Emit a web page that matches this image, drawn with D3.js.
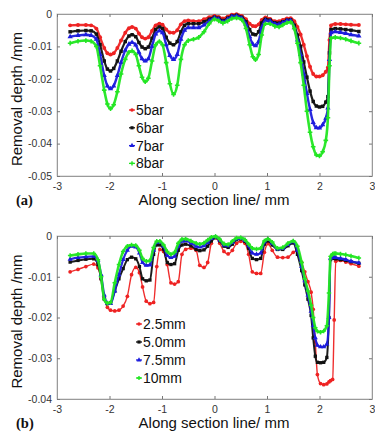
<!DOCTYPE html>
<html><head><meta charset="utf-8">
<script src="https://cdn.jsdelivr.net/npm/d3@7"></script>
<style>
html,body{margin:0;padding:0;background:#fff;}
svg{display:block;font-family:Arial,"Liberation Sans",sans-serif;}
</style></head>
<body>
<svg id="c" width="375" height="434"></svg>
<script>
// ---------- DATA ----------
const xTicks = [-3,-2,-1,0,1,2,3];
const xTickLabels = ["-3","-2","-1","0","1","2","3"];
const yTicksA = [0,-0.01,-0.02,-0.03,-0.04,-0.05];
const yTickLabelsA = ["0","-0.01","-0.02","-0.03","-0.04","-0.05"];
const yTicksB = [0,-0.01,-0.02,-0.03,-0.04];
const yTickLabelsB = ["0","-0.01","-0.02","-0.03","-0.04"];

const seriesNamesA = ["5bar","6bar","7bar","8bar"];
const seriesNamesB = ["2.5mm","5.0mm","7.5mm","10mm"];
const colors = ["#ee2222","#111111","#1c1cdd","#22e622"];

// (a) positions along the section line (mm)
const xA = [-2.75,-2.6,-2.45,-2.35,-2.25,-2.18,-2.1,-2.04,-1.98,-1.92,-1.85,-1.78,-1.7,-1.63,-1.57,-1.5,-1.44,-1.38,-1.32,-1.26,-1.19,-1.12,-1.05,-0.99,-0.92,-0.85,-0.78,-0.71,-0.64,-0.57,-0.5,-0.4,-0.3,-0.2,-0.1,0,0.08,0.16,0.25,0.33,0.42,0.52,0.6,0.67,0.73,0.78,0.84,0.9,0.97,1.06,1.15,1.23,1.3,1.38,1.45,1.52,1.58,1.64,1.7,1.76,1.82,1.88,1.94,2.0,2.06,2.12,2.16,2.19,2.22,2.3,2.4,2.5,2.6,2.75];
const a5bar = [-0.0035,-0.0034,-0.0034,-0.0035,-0.0045,-0.0072,-0.0105,-0.0121,-0.0125,-0.0121,-0.0105,-0.0082,-0.0058,-0.0044,-0.004,-0.0045,-0.006,-0.0072,-0.0076,-0.0072,-0.0052,-0.0035,-0.003,-0.0033,-0.0048,-0.0057,-0.0058,-0.005,-0.0032,-0.0022,-0.002,-0.0022,-0.0022,-0.0016,-0.001,-0.0006,-0.0009,-0.0014,-0.0008,-0.0002,-0.0001,-0.0006,-0.0016,-0.003,-0.0037,-0.0038,-0.0032,-0.0018,-0.0011,-0.0015,-0.0022,-0.0022,-0.0018,-0.0014,-0.0013,-0.0022,-0.004,-0.0063,-0.0095,-0.013,-0.0163,-0.0185,-0.0193,-0.0193,-0.0189,-0.0178,-0.0165,-0.008,-0.0035,-0.0031,-0.0031,-0.0032,-0.0033,-0.0034];
const a6bar = [-0.0055,-0.0052,-0.0051,-0.0052,-0.0062,-0.0095,-0.0145,-0.017,-0.0176,-0.0168,-0.0145,-0.0115,-0.0085,-0.0068,-0.0064,-0.007,-0.0088,-0.0102,-0.0107,-0.0102,-0.0075,-0.0048,-0.004,-0.0045,-0.0072,-0.009,-0.0095,-0.0085,-0.0055,-0.0035,-0.003,-0.003,-0.003,-0.0024,-0.0016,-0.001,-0.0013,-0.002,-0.0013,-0.0006,-0.0004,-0.001,-0.0024,-0.0048,-0.0062,-0.0064,-0.0055,-0.0028,-0.0016,-0.0019,-0.0027,-0.0028,-0.0024,-0.0019,-0.0018,-0.0035,-0.0065,-0.01,-0.0148,-0.0195,-0.0238,-0.027,-0.0284,-0.0287,-0.0285,-0.0272,-0.0255,-0.012,-0.0048,-0.0045,-0.0046,-0.0048,-0.005,-0.0054];
const a7bar = [-0.007,-0.0066,-0.0064,-0.0066,-0.0078,-0.0125,-0.019,-0.0222,-0.0231,-0.0222,-0.019,-0.015,-0.0112,-0.0093,-0.0088,-0.0096,-0.0118,-0.0138,-0.0145,-0.0138,-0.01,-0.0062,-0.0052,-0.0058,-0.0095,-0.0128,-0.014,-0.0125,-0.0078,-0.005,-0.0042,-0.0042,-0.0042,-0.0034,-0.0022,-0.0012,-0.0016,-0.0025,-0.0016,-0.0008,-0.0006,-0.0013,-0.0032,-0.007,-0.0093,-0.0098,-0.0085,-0.0042,-0.002,-0.0022,-0.0031,-0.0032,-0.0027,-0.0021,-0.002,-0.0042,-0.008,-0.0125,-0.0185,-0.0245,-0.0295,-0.0335,-0.0351,-0.0352,-0.0342,-0.0322,-0.029,-0.014,-0.0058,-0.0055,-0.0057,-0.006,-0.0064,-0.0068];
const a8bar = [-0.009,-0.0084,-0.0082,-0.0084,-0.01,-0.016,-0.0235,-0.0278,-0.0292,-0.028,-0.024,-0.0185,-0.014,-0.0118,-0.0114,-0.0125,-0.016,-0.0195,-0.0209,-0.0198,-0.0145,-0.0095,-0.0085,-0.0095,-0.015,-0.0215,-0.0248,-0.022,-0.014,-0.0095,-0.0082,-0.0078,-0.0072,-0.0055,-0.003,-0.0016,-0.0021,-0.0028,-0.0022,-0.0014,-0.0012,-0.0018,-0.0045,-0.0095,-0.0132,-0.0141,-0.0125,-0.0065,-0.003,-0.003,-0.0038,-0.004,-0.0034,-0.0027,-0.0025,-0.0045,-0.009,-0.015,-0.022,-0.03,-0.0365,-0.041,-0.0435,-0.0438,-0.0425,-0.039,-0.032,-0.016,-0.0075,-0.0072,-0.0074,-0.0078,-0.0083,-0.009];

// (b) positions along the section line (mm)
const xB = [-2.75,-2.6,-2.45,-2.3,-2.22,-2.16,-2.1,-2.04,-1.98,-1.9,-1.82,-1.74,-1.66,-1.58,-1.5,-1.43,-1.37,-1.3,-1.23,-1.16,-1.1,-1.04,-0.97,-0.9,-0.83,-0.76,-0.69,-0.62,-0.55,-0.45,-0.35,-0.28,-0.2,-0.13,-0.06,0.02,0.1,0.18,0.26,0.34,0.42,0.5,0.58,0.65,0.72,0.8,0.88,0.95,1.02,1.1,1.2,1.3,1.4,1.5,1.58,1.66,1.72,1.78,1.84,1.88,1.92,1.96,2.02,2.08,2.14,2.18,2.21,2.25,2.28,2.31,2.4,2.5,2.6,2.75];
const b25mm = [-0.0088,-0.0082,-0.0075,-0.0069,-0.0078,-0.0105,-0.015,-0.0175,-0.0182,-0.0184,-0.0182,-0.0172,-0.0148,-0.0095,-0.0077,-0.009,-0.0125,-0.016,-0.0166,-0.0163,-0.0075,-0.0033,-0.0038,-0.007,-0.0115,-0.0118,-0.0112,-0.0045,-0.0033,-0.003,-0.0035,-0.0072,-0.0077,-0.0065,-0.0018,-0.0004,-0.0018,-0.0038,-0.0044,-0.0035,-0.0018,-0.0013,-0.0018,-0.0045,-0.0088,-0.0092,-0.0092,-0.004,-0.0019,-0.0035,-0.0052,-0.0053,-0.0052,-0.004,-0.0035,-0.0065,-0.0088,-0.0112,-0.0138,-0.018,-0.026,-0.034,-0.0362,-0.0365,-0.0363,-0.0358,-0.0355,-0.0352,-0.0206,-0.0062,-0.006,-0.0064,-0.0068,-0.0074];
const b50mm = [-0.0064,-0.006,-0.0057,-0.0056,-0.007,-0.0105,-0.0155,-0.0166,-0.0164,-0.0135,-0.0105,-0.008,-0.0058,-0.0052,-0.0056,-0.0075,-0.0105,-0.011,-0.0108,-0.0045,-0.0022,-0.0022,-0.0032,-0.0065,-0.007,-0.0068,-0.0035,-0.0022,-0.002,-0.0024,-0.0033,-0.0036,-0.0034,-0.0025,-0.0012,-0.0004,-0.0012,-0.0025,-0.0028,-0.002,-0.0009,-0.0007,-0.0013,-0.003,-0.0055,-0.0058,-0.0055,-0.002,-0.0012,-0.0022,-0.0033,-0.0033,-0.0024,-0.0017,-0.0045,-0.0085,-0.012,-0.0155,-0.0195,-0.025,-0.0295,-0.031,-0.0311,-0.031,-0.0298,-0.02,-0.0058,-0.0055,-0.0055,-0.0056,-0.0058,-0.006,-0.0063,-0.0067];
const b75mm = [-0.0057,-0.0053,-0.0051,-0.005,-0.006,-0.0095,-0.0145,-0.0165,-0.0166,-0.0135,-0.0095,-0.0058,-0.0035,-0.0025,-0.0027,-0.0042,-0.0065,-0.0072,-0.0071,-0.0035,-0.0016,-0.0015,-0.0025,-0.0048,-0.0053,-0.005,-0.0025,-0.0013,-0.0012,-0.0017,-0.0025,-0.0027,-0.0024,-0.0016,-0.0006,-0.0002,-0.001,-0.0022,-0.0024,-0.0016,-0.0007,-0.0006,-0.0011,-0.0024,-0.0042,-0.0045,-0.0042,-0.0015,-0.0009,-0.0018,-0.0032,-0.0031,-0.0021,-0.0014,-0.0035,-0.0075,-0.011,-0.0145,-0.0185,-0.022,-0.025,-0.0268,-0.0272,-0.0272,-0.0265,-0.02,-0.0055,-0.0052,-0.0052,-0.0053,-0.0055,-0.0058,-0.0062,-0.0066];
const b10mm = [-0.0048,-0.0045,-0.0043,-0.0043,-0.0058,-0.01,-0.0155,-0.0165,-0.0163,-0.0115,-0.007,-0.0038,-0.0025,-0.0022,-0.0023,-0.0035,-0.0055,-0.0062,-0.006,-0.0028,-0.0013,-0.0013,-0.0022,-0.0038,-0.0045,-0.004,-0.0018,-0.0008,-0.0007,-0.0012,-0.0018,-0.002,-0.0017,-0.001,-0.0003,-0.0001,-0.0008,-0.0019,-0.0021,-0.0013,-0.0005,-0.0004,-0.0009,-0.002,-0.003,-0.0032,-0.003,-0.0012,-0.0007,-0.0015,-0.003,-0.0028,-0.0018,-0.0012,-0.0025,-0.0065,-0.0105,-0.0135,-0.017,-0.02,-0.0225,-0.0234,-0.0236,-0.0233,-0.022,-0.014,-0.005,-0.0044,-0.0043,-0.0043,-0.0044,-0.0046,-0.0049,-0.0054];

// ---------- DRAW ----------
const svg = d3.select("#c");
const symbolsList = [d3.symbolCircle, d3.symbolSquare, d3.symbolTriangle, d3.symbolCross];

function panel(opt){
  const g = svg.append("g");
  const x = d3.scaleLinear().domain([-3,3]).range([opt.left, opt.right]);
  const y = d3.scaleLinear().domain([opt.ymin,0]).range([opt.bottom, opt.top]);

  // box
  g.append("rect").attr("x",opt.left).attr("y",opt.top)
    .attr("width",opt.right-opt.left).attr("height",opt.bottom-opt.top)
    .attr("fill","none").attr("stroke","#c8c8c8").attr("stroke-width",1);

  // axes
  g.append("g").attr("transform",`translate(0,${opt.bottom})`)
    .call(d3.axisBottom(x).tickValues(xTicks).tickFormat((d,i)=>xTickLabels[i]).tickSizeInner(-3).tickSizeOuter(0).tickPadding(7));
  g.append("g").attr("transform",`translate(${opt.left},0)`)
    .call(d3.axisLeft(y).tickValues(opt.yTicks).tickFormat((d,i)=>opt.yLabels[i]).tickSizeInner(-3).tickSizeOuter(0).tickPadding(5));
  // mirrored ticks on right / top
  g.append("g").attr("transform",`translate(${opt.right},0)`)
    .call(d3.axisRight(y).tickValues(opt.yTicks).tickFormat("").tickSizeInner(-3).tickSizeOuter(0));
  g.append("g").attr("transform",`translate(0,${opt.top})`)
    .call(d3.axisTop(x).tickValues(xTicks).tickFormat("").tickSizeInner(-3).tickSizeOuter(0));
  g.selectAll(".domain").attr("stroke","#9a9a9a");
  g.selectAll(".tick line").attr("stroke","#777");
  g.selectAll(".tick text").attr("fill","#333").style("font-size","10.5px").style("font-family","Arial, 'Liberation Sans', sans-serif");

  // series
  const line = d3.line().x(d=>x(d[0])).y(d=>y(d[1])).curve(d3.curveMonotoneX);
  opt.series.forEach((s,k)=>{
    const pts = opt.xs.map((xv,i)=>[xv,s[i]]);
    g.append("path").attr("d",line(pts)).attr("fill","none")
      .attr("stroke",colors[k]).attr("stroke-width",opt.sw[k]).attr("stroke-opacity",0.95);
    g.selectAll(null).data(pts).enter().append("path")
      .attr("transform",d=>`translate(${x(d[0])},${y(d[1])})`)
      .attr("d",d3.symbol().type(symbolsList[k]).size(opt.ms))
      .attr("fill",colors[k]);
  });

  // legend
  opt.names.forEach((n,k)=>{
    const yy = opt.legY + k*opt.legStep;
    g.append("line").attr("x1",opt.legX-4).attr("x2",opt.legX+2).attr("y1",yy).attr("y2",yy)
      .attr("stroke",colors[k]).attr("stroke-width",1.3);
    g.append("path").attr("transform",`translate(${opt.legX-1},${yy})`)
      .attr("d",d3.symbol().type(symbolsList[k]).size(10)).attr("fill",colors[k]);
    g.append("text").attr("x",opt.legX+3).attr("y",yy+5).text(n)
      .attr("fill","#111").style("font-size","14px");
  });

  // axis titles
  g.append("text").attr("transform",`translate(${opt.ylabX},${(opt.top+opt.bottom)/2+4}) rotate(-90)`)
    .attr("text-anchor","middle").style("font-size","15px").attr("fill","#111").text("Removal depth /mm");
  g.append("text").attr("x",214).attr("y",opt.xlabY).attr("text-anchor","middle")
    .style("font-size","15px").attr("fill","#111").text("Along section line/ mm");
  g.append("text").attr("x",16).attr("y",opt.xlabY).style("font-family","'Liberation Serif','Times New Roman',serif")
    .style("font-weight","bold").style("font-size","14.5px").attr("fill","#111").text(opt.tag);
}

panel({left:57,right:372,top:14,bottom:176,ymin:-0.05,yTicks:yTicksA,yLabels:yTickLabelsA,
  xs:xA,series:[a5bar,a6bar,a7bar,a8bar],names:seriesNamesA,legX:133,legY:110,legStep:17.8,
  ylabX:22,xlabY:205,tag:"(a)",sw:[2.4,2.2,2.4,2.6],ms:12});
panel({left:57,right:372,top:236,bottom:399,ymin:-0.04,yTicks:yTicksB,yLabels:yTickLabelsB,
  xs:xB,series:[b25mm,b50mm,b75mm,b10mm],names:seriesNamesB,legX:140,legY:324,legStep:18,
  ylabX:22,xlabY:428,tag:"(b)",sw:[1.4,2.0,2.2,2.6],ms:11});
</script>
</body></html>
